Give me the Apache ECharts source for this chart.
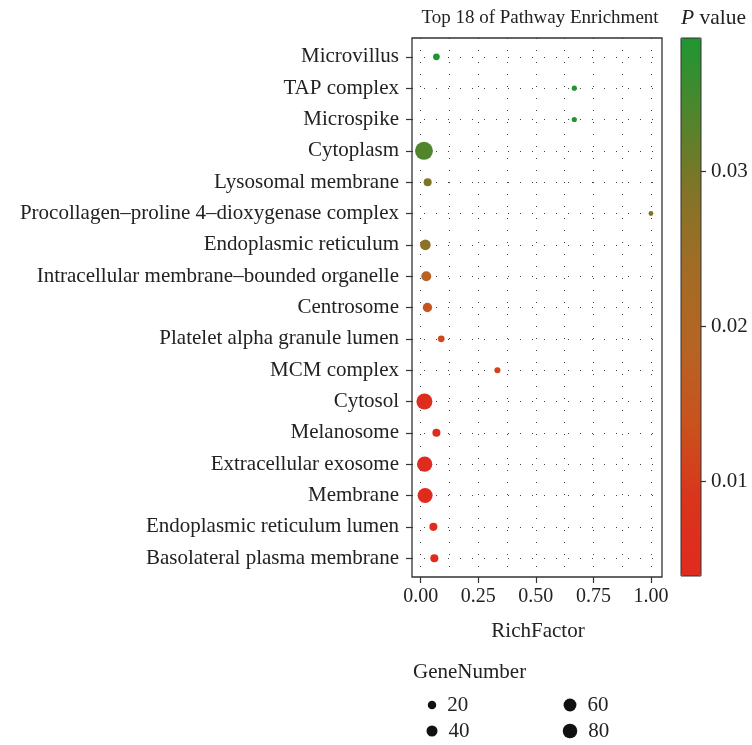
<!DOCTYPE html>
<html><head><meta charset="utf-8">
<script src="https://cdn.jsdelivr.net/npm/echarts@6/dist/echarts.min.js"></script>
<style>html,body{margin:0;padding:0;background:#fff}#c{width:752px;height:745px}</style>
</head><body><div id="c"></div>
<script>
const categories = ['Microvillus','TAP complex','Microspike','Cytoplasm','Lysosomal membrane','Procollagen\u2013proline 4\u2013dioxygenase complex','Endoplasmic reticulum','Intracellular membrane\u2013bounded organelle','Centrosome','Platelet alpha granule lumen','MCM complex','Cytosol','Melanosome','Extracellular exosome','Membrane','Endoplasmic reticulum lumen','Basolateral plasma membrane'];
const richFactor = [0.068,0.667,0.667,0.014,0.030,1.0,0.020,0.024,0.029,0.089,0.333,0.016,0.068,0.017,0.019,0.055,0.059];
const pValue = [0.0386,0.0384,0.0383,0.0335,0.0290,0.0288,0.0272,0.0185,0.0150,0.0125,0.0110,0.0052,0.0049,0.0046,0.0044,0.0042,0.0040];
const geneNumber = [10,4,4,133,17,3,37,31,26,10,7,101,17,91,87,17,17];
const xTicks = [0,0.25,0.5,0.75,1];
const xMinorTicks = [0.125,0.375,0.625,0.875];
const pTicks = [0.01,0.02,0.03];
const legendSizes = [20,40,60,80];
const pMin = 0.0039, pMax = 0.0386;
const xMin = -0.038, xMax = 1.048;

const rowIdx = categories.map((c, i) => i);
const FONT = '"Liberation Serif", "DejaVu Serif", serif';
const TXT = '#222';
const sizeFn = n => 2.5 + 1.342 * Math.sqrt(n);
const dotted = { color: '#444', width: 1, type: [1, 11] };

const chart = echarts.init(document.getElementById('c'));
chart.setOption({
  animation: false,
  textStyle: { fontFamily: FONT },
  grid: [
    { left: 412, top: 38, width: 250, height: 539, show: true, borderColor: '#333', borderWidth: 1.3, backgroundColor: 'transparent', z: 5 },
    { left: 681, top: 38, width: 20, height: 538, show: true, borderColor: '#333', borderWidth: 1, backgroundColor: 'transparent', z: 10 },
    { left: 432, top: 705, width: 138, height: 26 }
  ],
  xAxis: [
    { gridIndex: 0, type: 'value', position: 'bottom', min: xMin, max: xMax,
      axisLine: { show: false, onZero: false },
      axisTick: { show: true, inside: false, length: 6, customValues: xTicks, lineStyle: { color: '#333', width: 1.2 } },
      axisLabel: { show: true, customValues: xTicks, fontSize: 20, color: TXT, fontFamily: FONT, margin: 10, formatter: v => v.toFixed(2) },
      splitLine: { show: true, lineStyle: dotted } },
    { gridIndex: 0, type: 'value', position: 'top', min: xMin, max: xMax,
      axisLine: { show: false, onZero: false },
      axisTick: { show: false, customValues: xMinorTicks },
      axisLabel: { show: false, customValues: xMinorTicks },
      splitLine: { show: true, lineStyle: dotted } },
    { gridIndex: 1, type: 'value', show: false, min: 0, max: 1 },
    { gridIndex: 2, type: 'value', show: false, min: 0, max: 1 }
  ],
  yAxis: [
    { gridIndex: 0, type: 'value', inverse: true, min: -0.6, max: categories.length - 0.4,
      axisLine: { show: false, onZero: false },
      axisTick: { show: true, inside: false, length: 6, customValues: rowIdx, lineStyle: { color: '#333', width: 1.2 } },
      axisLabel: { show: true, customValues: rowIdx, fontSize: 21, color: TXT, fontFamily: FONT, margin: 13,
        formatter: v => categories[Math.round(v)] },
      splitLine: { show: true, lineStyle: dotted } },
    { gridIndex: 1, type: 'value', position: 'right', min: pMin, max: pMax, z: 12,
      axisLine: { show: false, onZero: false },
      axisTick: { show: true, inside: false, length: 5, customValues: pTicks, lineStyle: { color: '#333', width: 1.2 } },
      axisLabel: { show: true, customValues: pTicks, fontSize: 21, color: TXT, fontFamily: FONT, margin: 10, formatter: v => v.toFixed(2) },
      splitLine: { show: false } },
    { gridIndex: 2, type: 'value', show: false, min: 0, max: 1, inverse: true }
  ],
  visualMap: {
    type: 'continuous', seriesIndex: 0, dimension: 2, min: pMin, max: pMax,
    left: 681, top: 38, itemWidth: 20, itemHeight: 538, padding: 0,
    calculable: false, hoverLink: false, text: null, showLabel: false,
    inRange: { color: ['#E02A1E','#D9351C','#C9521D','#B66424','#A26C26','#827427','#50852C','#1F9632'] }
  },
  graphic: [
    { type: 'text', x: 540, y: 18, style: { text: 'Top 18 of Pathway Enrichment', fontSize: 19, fontFamily: FONT, fill: TXT, align: 'center', verticalAlign: 'middle' } },
    { type: 'text', x: 681, y: 18, style: { text: '{i|P} value', fontSize: 21.5, fontFamily: FONT, fill: TXT, align: 'left', verticalAlign: 'middle',
        rich: { i: { fontStyle: 'italic', fontSize: 21.5, fontFamily: FONT, fill: TXT } } } },
    { type: 'text', x: 538, y: 631, style: { text: 'RichFactor', fontSize: 21, fontFamily: FONT, fill: TXT, align: 'center', verticalAlign: 'middle' } },
    { type: 'text', x: 413, y: 672, style: { text: 'GeneNumber', fontSize: 21, fontFamily: FONT, fill: TXT, align: 'left', verticalAlign: 'middle' } }
  ],
  series: [
    { type: 'scatter', xAxisIndex: 0, yAxisIndex: 0, z: 6,
      data: categories.map((c, i) => [richFactor[i], i, pValue[i], geneNumber[i]]),
      symbolSize: v => sizeFn(v[3]),
      itemStyle: { opacity: 1 } },
    { type: 'scatter', xAxisIndex: 3, yAxisIndex: 2,
      data: legendSizes.map((s, i) => [Math.floor(i / 2), i % 2, s]),
      symbolSize: v => sizeFn(v[2]),
      itemStyle: { color: '#111', opacity: 1 },
      label: { show: true, position: 'right', distance: 11, formatter: p => String(p.value[2]), fontSize: 21, fontFamily: FONT, color: TXT } }
  ]
});
</script></body></html>
